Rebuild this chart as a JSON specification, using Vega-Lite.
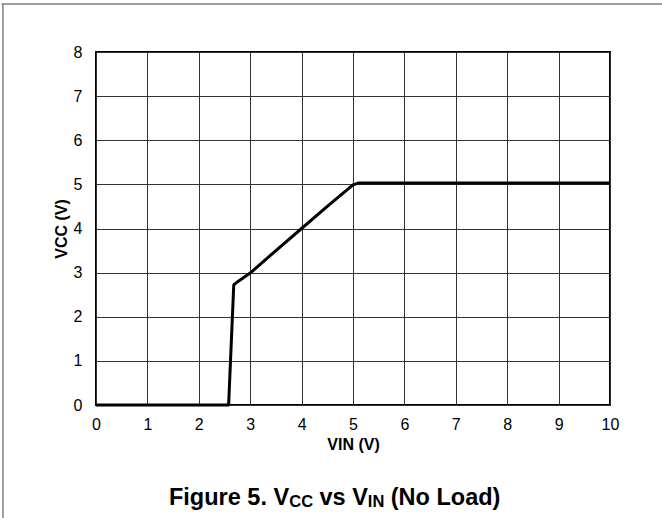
{
  "$schema": "https://vega.github.io/schema/vega-lite/v6.json",
  "width": 514,
  "height": 353,
  "autosize": {"type": "none"},
  "padding": {"left": 96, "top": 52, "right": 52, "bottom": 113},
  "background": "white",
  "config": {
    "font": "Liberation Sans",
    "view": {"stroke": "black", "strokeWidth": 2},
    "axis": {
      "grid": true,
      "gridColor": "#333333",
      "gridWidth": 1,
      "gridOpacity": 1,
      "domain": false,
      "ticks": false,
      "labelFlush": false,
      "labelFont": "Liberation Sans",
      "labelFontSize": 16,
      "labelColor": "black",
      "titleFont": "Liberation Sans",
      "titleFontSize": 16,
      "titleFontWeight": "bold",
      "titleColor": "black"
    }
  },
  "datasets": {
    "vcc": [
      {"vin": 0, "vcc": 0},
      {"vin": 2.58, "vcc": 0},
      {"vin": 2.68, "vcc": 2.72},
      {"vin": 2.75, "vcc": 2.79},
      {"vin": 3.0, "vcc": 2.99},
      {"vin": 3.5, "vcc": 3.5},
      {"vin": 4.0, "vcc": 4.0},
      {"vin": 4.5, "vcc": 4.5},
      {"vin": 5.0, "vcc": 4.99},
      {"vin": 5.1, "vcc": 5.03},
      {"vin": 10, "vcc": 5.03}
    ],
    "one": [{}]
  },
  "layer": [
    {
      "data": {"name": "vcc"},
      "mark": {"type": "line", "color": "black", "strokeWidth": 3, "strokeJoin": "round", "clip": false},
      "encoding": {
        "x": {
          "field": "vin", "type": "quantitative",
          "scale": {"domain": [0, 10], "nice": false, "zero": false},
          "axis": {"values": [0,1,2,3,4,5,6,7,8,9,10], "labelPadding": 11, "title": "VIN (V)", "titlePadding": 4}
        },
        "y": {
          "field": "vcc", "type": "quantitative",
          "scale": {"domain": [0, 8], "nice": false, "zero": false},
          "axis": {"values": [0,1,2,3,4,5,6,7,8], "labelPadding": 14, "title": "VCC (V)", "titlePadding": 4}
        }
      }
    },
    {
      "data": {"name": "one"},
      "mark": {"type": "rule", "color": "#7f7f7f", "strokeWidth": 1.5, "clip": false},
      "encoding": {
        "x": {"datum": -1.84, "type": "quantitative"},
        "x2": {"datum": 11.1},
        "y": {"datum": 9.09, "type": "quantitative"}
      }
    },
    {
      "data": {"name": "one"},
      "mark": {"type": "rule", "color": "#7f7f7f", "strokeWidth": 1.5, "clip": false},
      "encoding": {
        "x": {"datum": -1.81, "type": "quantitative"},
        "y": {"datum": 9.09, "type": "quantitative"},
        "y2": {"datum": -2.6}
      }
    },
    {
      "data": {"name": "one"},
      "mark": {"type": "text", "align": "left", "baseline": "alphabetic", "fontSize": 23.5, "fontWeight": "bold", "color": "black"},
      "encoding": {
        "x": {"datum": 1.42, "type": "quantitative"},
        "y": {"datum": -2.266, "type": "quantitative"},
        "text": {"value": "Figure 5. V"}
      }
    },
    {
      "data": {"name": "one"},
      "mark": {"type": "text", "align": "left", "baseline": "alphabetic", "fontSize": 16.5, "fontWeight": "bold", "color": "black"},
      "encoding": {
        "x": {"datum": 3.759, "type": "quantitative"},
        "y": {"datum": -2.31, "type": "quantitative"},
        "text": {"value": "CC"}
      }
    },
    {
      "data": {"name": "one"},
      "mark": {"type": "text", "align": "left", "baseline": "alphabetic", "fontSize": 23.5, "fontWeight": "bold", "color": "black"},
      "encoding": {
        "x": {"datum": 4.348, "type": "quantitative"},
        "y": {"datum": -2.266, "type": "quantitative"},
        "text": {"value": "vs V"}
      }
    },
    {
      "data": {"name": "one"},
      "mark": {"type": "text", "align": "left", "baseline": "alphabetic", "fontSize": 16.5, "fontWeight": "bold", "color": "black"},
      "encoding": {
        "x": {"datum": 5.288, "type": "quantitative"},
        "y": {"datum": -2.31, "type": "quantitative"},
        "text": {"value": "IN"}
      }
    },
    {
      "data": {"name": "one"},
      "mark": {"type": "text", "align": "left", "baseline": "alphabetic", "fontSize": 23.5, "fontWeight": "bold", "color": "black"},
      "encoding": {
        "x": {"datum": 5.735, "type": "quantitative"},
        "y": {"datum": -2.266, "type": "quantitative"},
        "text": {"value": "(No Load)"}
      }
    }
  ]
}
